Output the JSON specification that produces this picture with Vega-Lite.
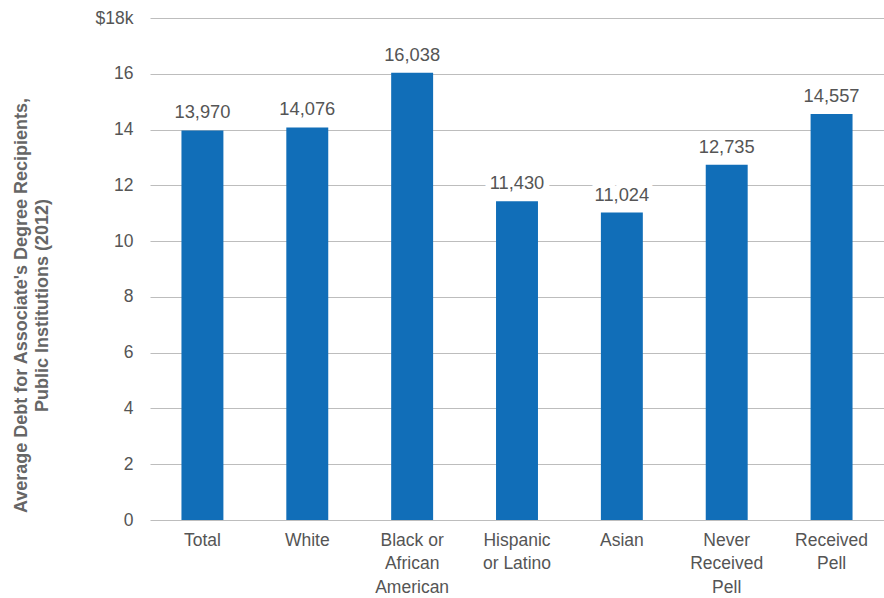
{
  "$schema": "https://vega.github.io/schema/vega-lite/v6.json",
  "autosize": "none",
  "width": 734,
  "height": 502,
  "padding": {"left": 150, "top": 18, "right": 0, "bottom": 78},
  "background": "white",
  "config": {
    "font": "Liberation Sans",
    "view": {"stroke": null}
  },
  "data": {
    "values": [
      {"group": "Total", "debt": 13970},
      {"group": "White", "debt": 14076},
      {"group": "Black or|African|American", "debt": 16038},
      {"group": "Hispanic|or Latino", "debt": 11430},
      {"group": "Asian", "debt": 11024},
      {"group": "Never|Received|Pell", "debt": 12735},
      {"group": "Received|Pell", "debt": 14557}
    ]
  },
  "transform": [
    {"calculate": "datum.debt / 1000", "as": "debtK"}
  ],
  "encoding": {
    "x": {
      "field": "group",
      "type": "nominal",
      "sort": null,
      "scale": {"paddingInner": 0.6, "paddingOuter": 0.3},
      "axis": {
        "title": null,
        "labelAngle": 0,
        "domain": false,
        "ticks": false,
        "labelPadding": 11,
        "labelFontSize": 17.5,
        "labelColor": "#555555",
        "labelLineHeight": 23.5,
        "labelExpr": "split(datum.label, '|')"
      }
    },
    "y": {
      "field": "debtK",
      "type": "quantitative",
      "scale": {"domain": [0, 18], "nice": false},
      "axis": {
        "values": [0, 2, 4, 6, 8, 10, 12, 14, 16, 18],
        "labelExpr": "datum.value == 18 ? '$18k' : datum.label",
        "domain": false,
        "ticks": false,
        "labelPadding": 17,
        "labelFontSize": 17.5,
        "labelColor": "#555555",
        "gridColor": "#bdbdbd",
        "gridWidth": 1,
        "title": ["Average Debt for Associate's Degree Recipients,", "Public Institutions (2012)"],
        "titleFontSize": 18,
        "titleFontWeight": "bold",
        "titleColor": "#666666",
        "titleLineHeight": 21,
        "titleY": 287,
        "titleX": -120
      }
    }
  },
  "layer": [
    {
      "mark": {"type": "bar", "color": "#116EB8"}
    },
    {
      "mark": {
        "type": "text",
        "baseline": "alphabetic",
        "dy": -12,
        "fontSize": 18.3,
        "fill": "white",
        "stroke": "white",
        "strokeWidth": 12,
        "strokeJoin": "round"
      },
      "encoding": {"text": {"field": "debt", "type": "quantitative", "format": ","}}
    },
    {
      "mark": {
        "type": "text",
        "baseline": "alphabetic",
        "dy": -12,
        "fontSize": 18.3,
        "color": "#555555"
      },
      "encoding": {"text": {"field": "debt", "type": "quantitative", "format": ","}}
    }
  ]
}
